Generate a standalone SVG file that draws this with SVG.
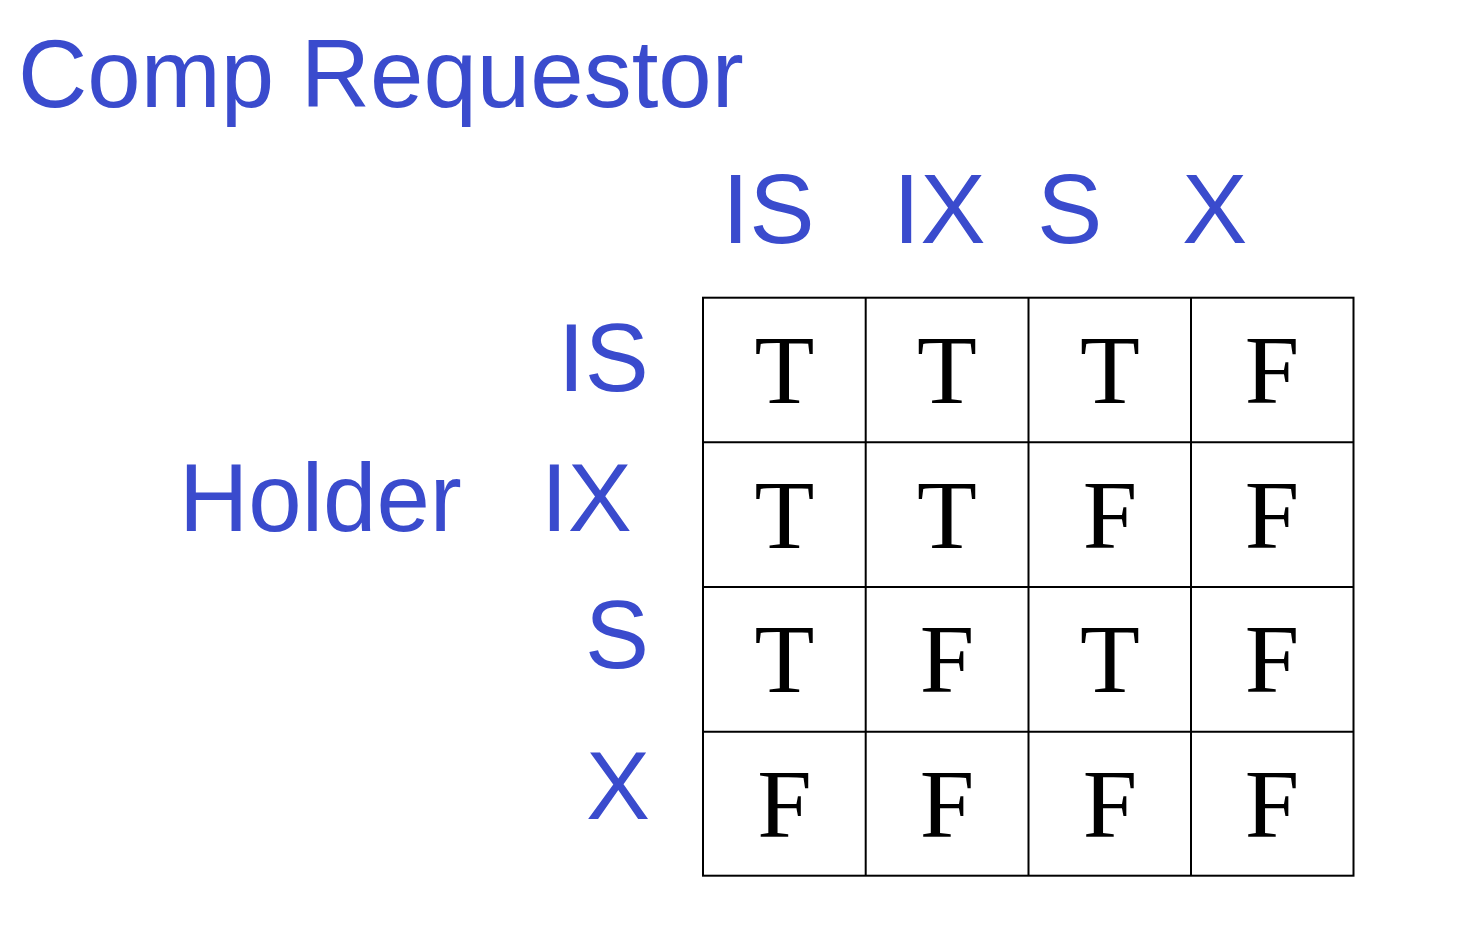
<svg xmlns="http://www.w3.org/2000/svg" width="1470" height="940" viewBox="0 0 1470 940">
<style>
.lbl{font-family:"Liberation Sans",Arial,sans-serif;fill:#3a4bcd;font-size:96px}
.hdr{font-family:"Liberation Sans",Arial,sans-serif;fill:#3a4bcd;font-size:98px}
.cell{font-family:"Liberation Serif","Times New Roman",serif;fill:#000;font-size:98px;text-anchor:middle}
.grid{stroke:#000;stroke-width:2;fill:none}
</style>
<rect width="1470" height="940" fill="#fff"/>
<g id="title"><text class="lbl" x="18" y="107">Comp Requestor</text></g>
<g id="col-headers">
<text class="hdr" x="722" y="242.5">IS</text>
<text class="hdr" x="893" y="242.5">IX</text>
<text class="hdr" x="1037" y="242.5">S</text>
<text class="hdr" x="1182" y="242.5">X</text>
</g>
<g id="row-headers">
<text class="lbl" x="179" y="530.5">Holder</text>
<text class="lbl" x="558" y="390.5">IS</text>
<text class="lbl" x="541" y="530.5">IX</text>
<text class="lbl" x="585" y="667.5">S</text>
<text class="lbl" x="586" y="819">X</text>
</g>
<g id="grid">
<rect class="grid" x="703" y="297.7" width="650.5" height="578"/>
<line class="grid" x1="865.7" y1="297.7" x2="865.7" y2="875.7"/>
<line class="grid" x1="1028.5" y1="297.7" x2="1028.5" y2="875.7"/>
<line class="grid" x1="1191" y1="297.7" x2="1191" y2="875.7"/>
<line class="grid" x1="703" y1="442.3" x2="1353.5" y2="442.3"/>
<line class="grid" x1="703" y1="587" x2="1353.5" y2="587"/>
<line class="grid" x1="703" y1="731.7" x2="1353.5" y2="731.7"/>
</g>
<g id="cells">
<text class="cell" x="784.5" y="403">T</text>
<text class="cell" x="947" y="403">T</text>
<text class="cell" x="1110" y="403">T</text>
<text class="cell" x="1272" y="403">F</text>
<text class="cell" x="784.5" y="547.5">T</text>
<text class="cell" x="947" y="547.5">T</text>
<text class="cell" x="1110" y="547.5">F</text>
<text class="cell" x="1272" y="547.5">F</text>
<text class="cell" x="784.5" y="692">T</text>
<text class="cell" x="947" y="692">F</text>
<text class="cell" x="1110" y="692">T</text>
<text class="cell" x="1272" y="692">F</text>
<text class="cell" x="784.5" y="836.5">F</text>
<text class="cell" x="947" y="836.5">F</text>
<text class="cell" x="1110" y="836.5">F</text>
<text class="cell" x="1272" y="836.5">F</text>
</g>
</svg>
